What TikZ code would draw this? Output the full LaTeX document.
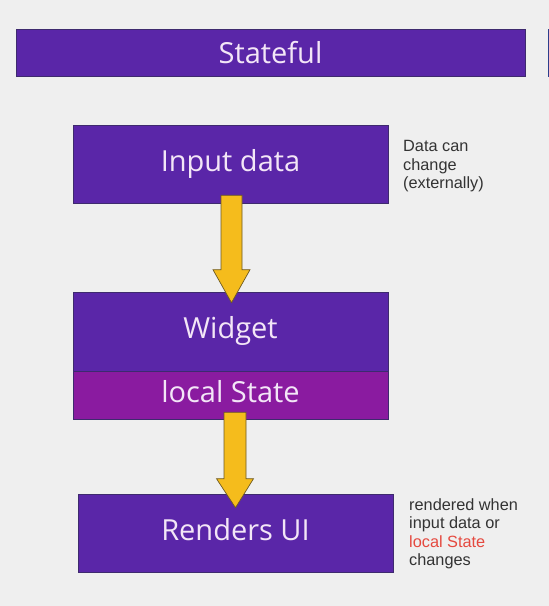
\documentclass[tikz,border=0pt]{standalone}
\usepackage{fontspec}
\setmainfont{Open Sans}
\newfontfamily\arialf{Liberation Sans}
\usetikzlibrary{calc}
\definecolor{bg}{HTML}{EFEFEF}
\definecolor{boxpurple}{HTML}{5A26A8}
\definecolor{statepurple}{HTML}{8A1BA0}
\definecolor{boxedge}{HTML}{3E2A6E}
\definecolor{boxtext}{HTML}{F3E6F7}
\definecolor{arrowfill}{HTML}{F5BC1C}
\definecolor{arrowedge}{HTML}{6E5A22}
\definecolor{sidetext}{HTML}{333333}
\definecolor{redtext}{HTML}{E5493F}
\definecolor{edgeblue}{HTML}{2C3E8C}
\newcommand{\yflow}[5]{\draw[yarrow] let \p1=(#1), \p2=(#2) in
  (\x1-#3,\y1) -- (\x1+#3,\y1) -- (\x1+#3,\y2+#5) -- (\x1+#4,\y2+#5) -- (\x2,\y2)
  -- (\x1-#4,\y2+#5) -- (\x1-#3,\y2+#5) -- cycle;}
\begin{document}
\begin{tikzpicture}[x=1pt,y=-1pt,
  box/.style={fill=boxpurple, draw=boxedge, line width=0.6pt, text=boxtext,
    font=\fontsize{29}{33}\selectfont, inner sep=0pt, anchor=center,
    text height=21pt, text depth=7pt},
  yarrow/.style={fill=arrowfill, draw=arrowedge, line width=0.7pt, line join=miter},
  note/.style={text=sidetext, font=\arialf\fontsize{16.3}{18.6}\selectfont,
    align=left, anchor=north west, inner sep=0pt}]
\fill[bg] (0,0) rectangle (549,606);
\useasboundingbox (0,0) rectangle (549,606);
\fill[edgeblue] (547.5,29) rectangle (549,77);
\node[box, minimum width=509pt, minimum height=47pt, text depth=0pt] (stateful) at (270.5,52.5) {Stateful};
\node[box, minimum width=315pt, minimum height=78pt] (input) at (230.5,164) {Input data};
\node[box, minimum width=315pt, minimum height=79pt] (widget) at (230.5,331.5) {Widget};
\node[box, fill=statepurple, minimum width=315pt, minimum height=48pt] (local) at (230.5,395) {local State};
\node[box, minimum width=315pt, minimum height=78pt] (render) at (235.5,533) {Renders UI};
\node[note] (note1) at (403,140) {Data can\\change\\(externally)};
\node[note] (note2) at (409,498) {rendered when\\input data or\\{\color{redtext}local State}\\changes};
\coordinate (a1s) at ($(input.south)+(1,-8)$);
\coordinate (a1e) at ($(widget.north)+(1,11)$);
\coordinate (a2s) at ($(local.south)+(4.5,-7)$);
\coordinate (a2e) at ($(render.north)+(0,14)$);
\yflow{a1s}{a1e}{10.5pt}{18.5pt}{33pt}
\yflow{a2s}{a2e}{11pt}{18.5pt}{29pt}
\end{tikzpicture}
\end{document}
